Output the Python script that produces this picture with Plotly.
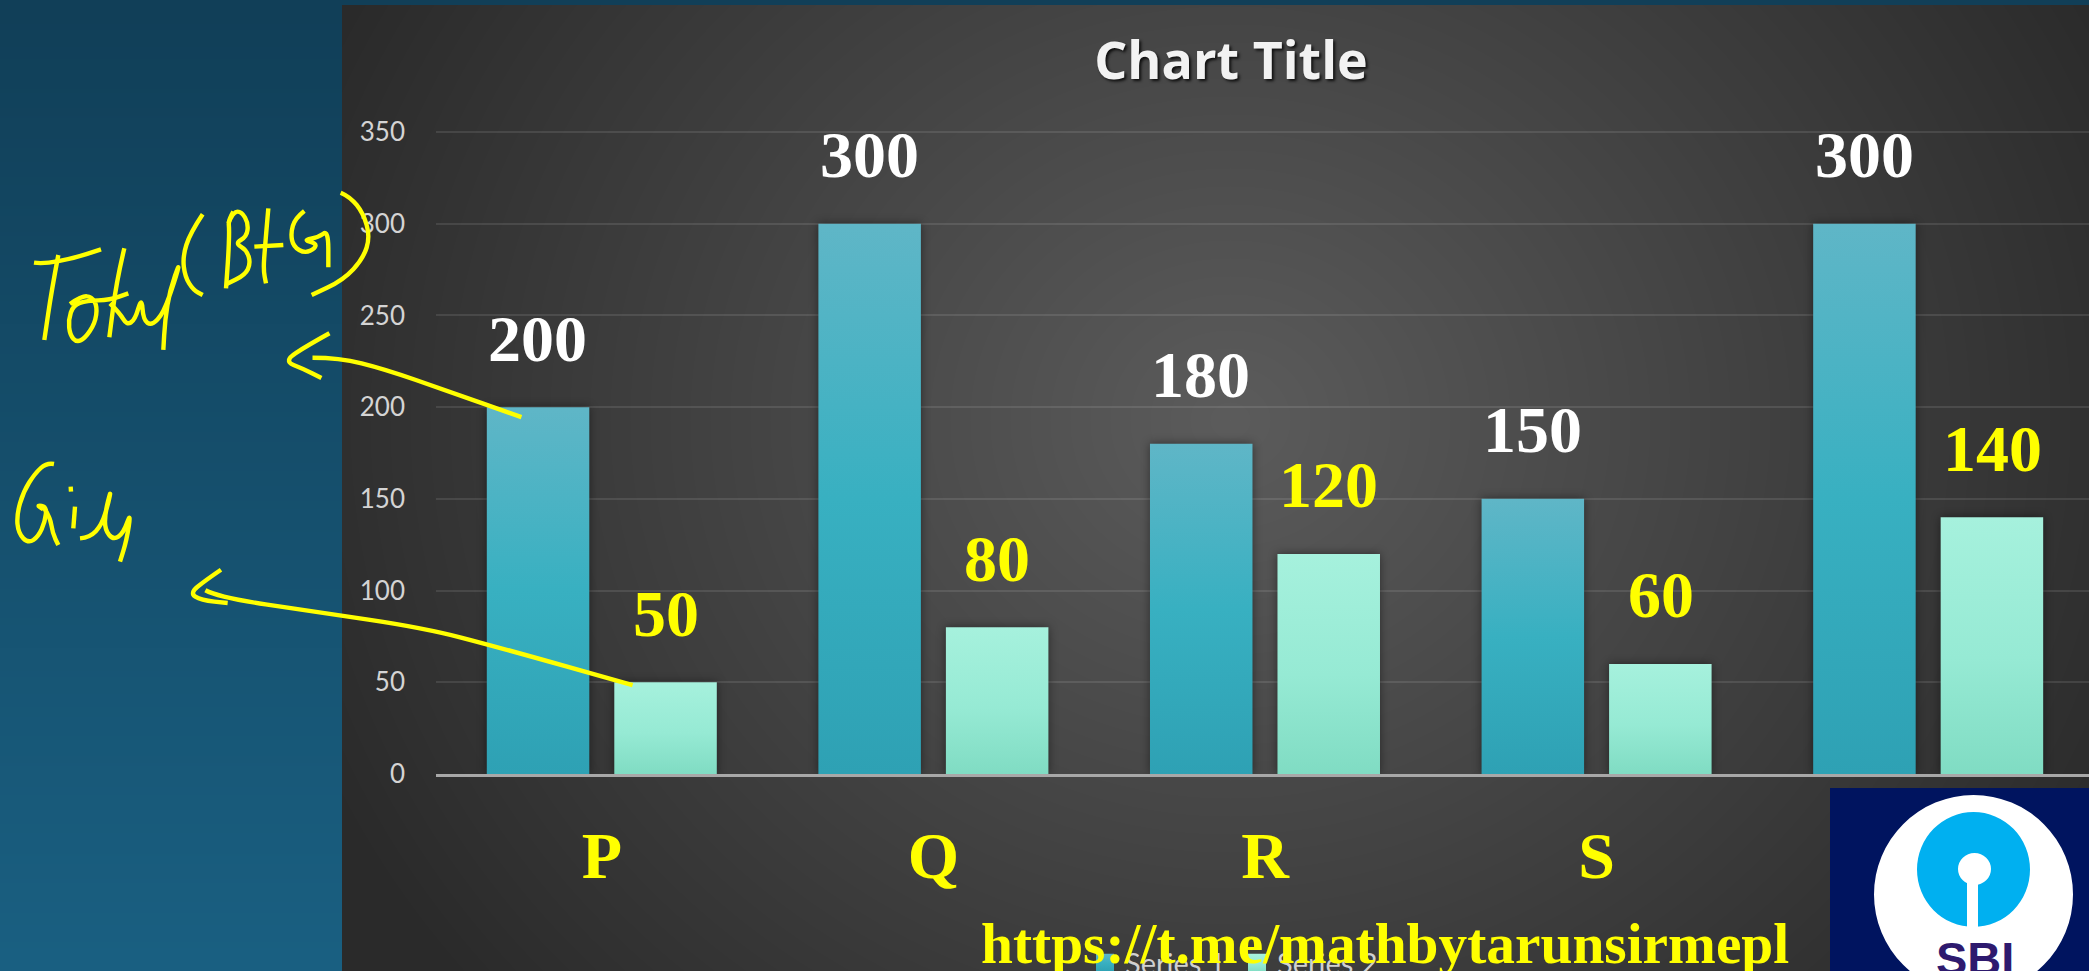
import base64, struct, zlib
import numpy as np
import plotly.graph_objects as go

W, H = 2089, 971
categories = ["P", "Q", "R", "S", "T"]
series_1 = [200, 300, 180, 150, 300]
series_2 = [50, 80, 120, 60, 140]
y_ticks = [0, 50, 100, 150, 200, 250, 300, 350]
title_text = "Chart Title"
link_text = "https://t.me/mathbytarunsirmepl"
YELLOW = "#ffff00"
AX0, Y0, Y350 = 436, 774, 132
Y_TOP = 352


def px(x):
    return x / W


def py(y):
    return 1 - y / H


def png_uri(rgb):
    h, w, _ = rgb.shape
    raw = b"".join(b"\x00" + rgb[r].tobytes() for r in range(h))

    def chunk(t, d):
        return struct.pack(">I", len(d)) + t + d + struct.pack(">I", zlib.crc32(t + d) & 0xffffffff)

    data = b"\x89PNG\r\n\x1a\n" + chunk(b"IHDR", struct.pack(">IIBBBBB", w, h, 8, 2, 0, 0, 0)) + chunk(b"IDAT", zlib.compress(raw, 6)) + chunk(b"IEND", b"")
    return "data:image/png;base64," + base64.b64encode(data).decode()


# slide background: teal panel with a dark radial-gradient card on top
yy, xx = np.mgrid[0:H, 0:W].astype(float)
t = yy / H
bg = np.zeros((H, W, 3))
for c, (a, b) in enumerate([(0x11, 0x1a), (0x3f, 0x60), (0x58, 0x82)]):
    bg[..., c] = a + (b - a) * t
d = np.sqrt(((xx - 1230) / 1000) ** 2 + ((yy - 420) / 900) ** 2)
grey = 0x5c - (0x5c - 0x2a) * np.clip(d, 0, 1)
mask = (xx >= 342) & (yy >= 5)
for c in range(3):
    bg[..., c][mask] = grey[mask]
bg_uri = png_uri(bg.astype(np.uint8))

fig = go.Figure()
fig.add_bar(name="Series 1", x=categories, y=series_1, marker_color="#37afc0", marker_line_width=0)
fig.add_bar(name="Series 2", x=categories, y=series_2, marker_color="#94e8d2", marker_line_width=0)

annotations = []
for vals, shift, col in [(series_1, -64, "white"), (series_2, 64, YELLOW)]:
    for c, v in zip(categories, vals):
        annotations.append(dict(x=c, y=v, xref="x", yref="y", text=f"<b>{v}</b>", showarrow=False,
                                xshift=shift, yshift=69, yanchor="middle",
                                font=dict(family="Liberation Serif", size=66, color=col)))
SBI_INDEX = len(annotations)
annotations.append(dict(x=px(1975), y=py(958), xref="paper", yref="paper", text="<b>SBI</b>", showarrow=False,
                        xanchor="center", yanchor="middle",
                        font=dict(family="Liberation Sans", size=47, color="#2e1a6e")))
LINK_INDEX = len(annotations)
annotations.append(dict(x=px(1385), y=py(943), xref="paper", yref="paper", text=f"<b>{link_text}</b>", showarrow=False,
                        xanchor="center", yanchor="middle",
                        font=dict(family="Liberation Serif", size=57.4, color=YELLOW)))


def z1(pts):
    return [(20 + a / 3, 180 + b / 3) for a, b in pts]


def z2(pts):
    return [(a / 3, 450 + b / 3) for a, b in pts]


def z3(pts):
    return [(a / 2.24, 100 + b / 2.529) for a, b in pts]


strokes = [
    z1([(42, 248), (70, 252), (160, 235), (243, 208)]),
    z1([(115, 225), (95, 330), (73, 480)]),
    z1([(150, 372), (185, 348), (215, 350), (232, 380), (225, 430), (195, 475), (170, 487), (150, 465), (145, 420), (160, 375), (200, 362), (270, 360), (325, 340)]),
    z1([(313, 205), (290, 300), (268, 472)]),
    z1([(270, 370), (300, 400), (320, 435), (345, 420), (365, 350), (370, 420), (395, 437), (430, 400), (465, 300), (480, 245), (450, 330), (435, 420), (430, 510)]),
    z1([(548, 103), (510, 160), (488, 230), (495, 290), (520, 330), (548, 345)]),
    z1([(640, 95), (625, 120), (628, 150), (625, 230), (618, 325)]),
    z1([(625, 130), (640, 95), (665, 95), (685, 130), (680, 170), (645, 190), (680, 210), (692, 250), (675, 285), (620, 312)]),
    z1([(703, 200), (790, 195)]),
    z1([(745, 85), (735, 200), (730, 270), (738, 310)]),
    z1([(853, 93), (825, 115), (812, 160), (820, 200), (855, 220), (885, 205), (888, 190), (850, 180), (895, 172), (925, 150), (925, 262)]),
    z1([(962, 38), (990, 50), (1030, 100), (1050, 170), (1030, 235), (970, 300), (875, 345)]),
    z3([(738, 590), (690, 620), (635, 660), (680, 680), (720, 703)]),
    z3([(700, 652), (760, 652), (860, 680), (1000, 735), (1168, 802)]),
    z2([(162, 42), (140, 38), (105, 70), (70, 125), (50, 195), (55, 250), (85, 280), (115, 260), (135, 215), (140, 170), (110, 165), (130, 178)]),
    z2([(130, 170), (150, 200), (158, 250), (175, 285)]),
    z2([(212, 110), (213, 125)]),
    z2([(225, 170), (220, 235)]),
    z2([(240, 265), (270, 262), (305, 225), (325, 160), (333, 118), (315, 190), (315, 240), (340, 270), (370, 250), (393, 185), (380, 270), (360, 335)]),
    z3([(495, 1188), (460, 1215), (425, 1247), (450, 1265), (510, 1272)]),
    z3([(460, 1240), (490, 1258), (700, 1293), (950, 1335), (1120, 1385), (1417, 1480)]),
]


def smooth(points):
    p = [(px(a), py(b)) for a, b in points]
    s = f"M{p[0][0]:.5f},{p[0][1]:.5f}"
    for i in range(1, len(p) - 1):
        mx, my = (p[i][0] + p[i + 1][0]) / 2, (p[i][1] + p[i + 1][1]) / 2
        s += f" Q{p[i][0]:.5f},{p[i][1]:.5f} {mx:.5f},{my:.5f}"
    s += f" L{p[-1][0]:.5f},{p[-1][1]:.5f}"
    return s


shapes = [dict(type="path", xref="paper", yref="paper", path=smooth(s), layer="above",
               line=dict(color=YELLOW, width=4.4)) for s in strokes]


def box(kind, x0, y0, x1, y1, col):
    return dict(type=kind, xref="paper", yref="paper", x0=px(x0), x1=px(x1), y0=py(y0), y1=py(y1),
                fillcolor=col, line_width=0, layer="above")


shapes += [
    box("rect", 1830, 788, W + 5, H + 5, "#00145f"),
    box("circle", 1874, 795, 2073, 994, "#ffffff"),
    box("circle", 1917, 812, 2030, 927, "#00b0f0"),
    box("circle", 1958, 853, 1991, 885, "#ffffff"),
    box("rect", 1967, 875, 1978, 928, "#ffffff"),
]

fig.update_layout(
    width=W, height=H, margin=dict(l=0, r=0, t=0, b=0, autoexpand=False),
    paper_bgcolor="#123f58", plot_bgcolor="rgba(0,0,0,0)",
    barmode="group", bargap=0.231, bargroupgap=0.196, hovermode=False,
    images=[dict(source=bg_uri, xref="paper", yref="paper", x=0, y=1, sizex=1, sizey=1,
                 sizing="stretch", xanchor="left", yanchor="top", layer="below")],
    title=dict(text=title_text, x=px(1231), y=py(61), xref="paper", yref="paper",
               xanchor="center", yanchor="middle",
               font=dict(family="Open Sans", size=52, weight=700, color="#f2f2f2", shadow="2px 2px 3px rgba(0,0,0,0.8)")),
    xaxis=dict(domain=[px(AX0), 1], range=[-0.5, 4.485], showgrid=False, zeroline=False, showline=True,
               linecolor="#a8a8a8", linewidth=3, ticks="", ticklabelstandoff=22,
               tickfont=dict(family="Liberation Serif", size=66, color=YELLOW, weight="bold")),
    yaxis=dict(domain=[py(Y0), py(Y0 - (Y0 - Y350) * Y_TOP / 350)], range=[0, Y_TOP], tickvals=y_ticks, showgrid=True,
               gridcolor="rgba(255,255,255,0.10)", gridwidth=2, zeroline=False, ticks="", ticklabelstandoff=30,
               tickfont=dict(family="Lato", size=26, color="#d4d4d4")),
    legend=dict(orientation="h", x=px(1085), y=py(963), xanchor="left", yanchor="middle",
                entrywidth=107, entrywidthmode="pixels",
                font=dict(family="Lato", size=29, color="#d0d0d0"), bgcolor="rgba(0,0,0,0)"),
    annotations=annotations, shapes=shapes,
)

post = """
document.documentElement.style.overflow='hidden';
document.body.style.margin='0';
var gd=document.getElementById('{plot_id}');
var svg=gd.querySelector('.main-svg');
var ns='http://www.w3.org/2000/svg';
var defs=document.createElementNS(ns,'defs');
function grad(id,stops){
  var g=document.createElementNS(ns,'linearGradient');
  g.setAttribute('id',id);g.setAttribute('x1','0');g.setAttribute('y1','0');g.setAttribute('x2','0');g.setAttribute('y2','1');
  stops.forEach(function(s){var e=document.createElementNS(ns,'stop');e.setAttribute('offset',s[0]);e.setAttribute('stop-color',s[1]);g.appendChild(e);});
  defs.appendChild(g);
}
grad('gs1',[[0,'#5fb6c7'],[0.5,'#38b0c1'],[1,'#2ea1b4']]);
grad('gs2',[[0,'#a6f1dd'],[0.55,'#96ead4'],[1,'#80dcc3']]);
svg.insertBefore(defs,svg.firstChild);
gd.querySelectorAll('.barlayer .trace').forEach(function(tr,i){
  tr.querySelectorAll('path').forEach(function(p){p.style.fill='url(#gs'+(i+1)+')';p.style.filter='drop-shadow(0 0 5px rgba(0,0,0,0.45))';});
});
gd.querySelectorAll('.legend .traces').forEach(function(tr,i){
  tr.querySelectorAll('.legendpoints path').forEach(function(p){p.setAttribute('d','M9,9H-9V-9H9Z');p.style.fill='url(#gs'+(i+1)+')';});
});
// these two run off the bottom edge in the reference too, so pin their centres
function settle(idx,target){
  var a=gd.querySelector('.annotation[data-index="'+idx+'"]');
  if(!a)return;
  var r=a.getBoundingClientRect();
  a.setAttribute('transform','translate(0,'+(target-(r.top+r.bottom)/2)+')');
}
settle(SBI_INDEX,958);
settle(LINK_INDEX,943);
""".replace("SBI_INDEX", str(SBI_INDEX)).replace("LINK_INDEX", str(LINK_INDEX))
fig.write_html("out.html", post_script=post, config=dict(displayModeBar=False))
